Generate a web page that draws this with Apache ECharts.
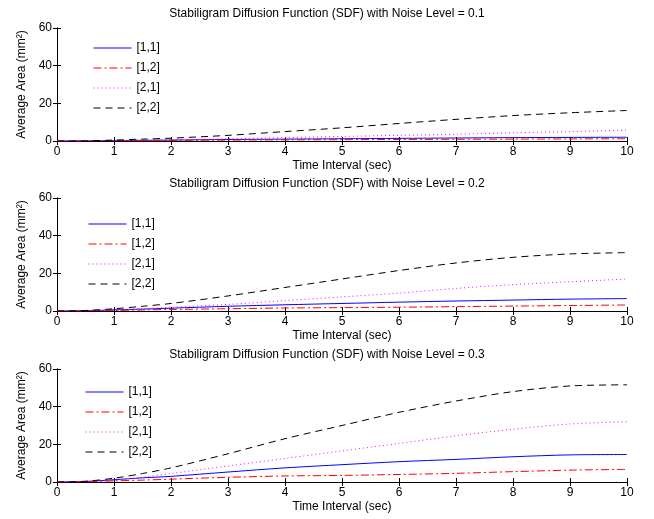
<!DOCTYPE html>
<html><head><meta charset="utf-8">
<script src="https://cdn.jsdelivr.net/npm/echarts@6/dist/echarts.min.js"></script>
<style>html,body{margin:0;padding:0;background:#fff}#c{width:654px;height:519px}</style>
</head><body><div id="c"></div>
<script>
const xs = [0, 0.5, 1, 1.5, 2, 3, 4, 5, 6, 7, 8, 9, 10];
const seriesNames = ['[1,1]', '[1,2]', '[2,1]', '[2,2]'];
const noiseLevels = ['0.1', '0.2', '0.3'];
const xTicks = [0,1,2,3,4,5,6,7,8,9,10];
const yTicks = [0,20,40,60];

// Noise 0.1
const n1_11 = [0, 0.05, 0.2, 0.35, 0.5, 0.8, 1.0, 1.2, 1.4, 1.6, 1.8, 1.9, 2.0];
const n1_12 = [0, 0.03, 0.1, 0.2, 0.3, 0.5, 0.6, 0.7, 0.8, 0.9, 1.0, 1.1, 1.2];
const n1_21 = [0, 0.05, 0.2, 0.4, 0.6, 1.2, 1.8, 2.4, 3.0, 3.6, 4.3, 5.0, 5.8];
const n1_22 = [0, 0.1, 0.5, 1.0, 1.5, 3.0, 5.0, 7.0, 9.3, 11.5, 13.5, 15.0, 16.2];
// Noise 0.2
const n2_11 = [0, 0.15, 0.6, 1.0, 1.5, 2.5, 3.3, 4.0, 4.7, 5.3, 5.8, 6.3, 6.6];
const n2_12 = [0, 0.08, 0.3, 0.55, 0.8, 1.2, 1.6, 1.8, 2.0, 2.3, 2.6, 2.9, 3.2];
const n2_21 = [0, 0.1, 0.5, 1.2, 2.0, 3.5, 5.5, 7.5, 9.5, 12.0, 14.0, 15.5, 17.0];
const n2_22 = [0, 0.3, 1.2, 2.5, 4.0, 8.0, 12.5, 17.0, 21.5, 25.5, 28.5, 30.3, 31.0];
// Noise 0.3
const n3_11 = [0, 0.3, 1.2, 2.2, 3.0, 5.3, 7.5, 9.2, 10.8, 12.0, 13.4, 14.4, 14.6];
const n3_12 = [0, 0.15, 0.6, 1.0, 1.5, 2.5, 3.2, 3.5, 4.0, 4.6, 5.5, 6.3, 6.7];
const n3_21 = [0, 0.2, 1.0, 2.5, 4.5, 8.5, 12.5, 16.5, 20.5, 24.5, 28.0, 30.8, 32.0];
const n3_22 = [0, 0.4, 2.0, 4.5, 7.5, 15.0, 23.0, 30.0, 37.0, 43.0, 48.0, 51.0, 51.6];

const panels = [[n1_11,n1_12,n1_21,n1_22],[n2_11,n2_12,n2_21,n2_22],[n3_11,n3_12,n3_21,n3_22]];

const colors = ['#0000ff', '#ff0000', '#ff00ff', '#000000'];
const dashes = ['solid', [8,3,2,3], [1,3], [7,5]];
const font = '"Liberation Sans", Arial, sans-serif';
const tops = [28, 198, 369];
const H = 113;
const legendLeft = [93, 88, 85];
const legendTop = [42, 218, 386];

const grids = [], xAxes = [], yAxes = [], series = [], titles = [], legends = [];
tops.forEach((top, p) => {
  grids.push({left: 57, right: 27, top: top, height: H, show: false});
  titles.push({text: 'Stabiligram Diffusion Function (SDF) with Noise Level = ' + noiseLevels[p],
    left: 'center', top: top - 25, textStyle: {fontFamily: font, fontSize: 12, fontWeight: 'normal', color: '#000'}});
  const axLine = {show: true, lineStyle: {color: '#000', width: 1}};
  xAxes.push({type: 'value', gridIndex: p, min: 0, max: 10, interval: 1, position: 'bottom',
    name: 'Time Interval (sec)', nameLocation: 'middle', nameGap: 19,
    nameTextStyle: {fontFamily: font, fontSize: 12, color: '#000'},
    axisLine: axLine, axisTick: {inside: true, length: 4, lineStyle: {color: '#000'}},
    axisLabel: {fontFamily: font, fontSize: 12, color: '#000', margin: 5,
      formatter: v => xTicks.includes(v) ? String(v) : ''},
    splitLine: {show: false}});
  xAxes.push({type: 'value', gridIndex: p, min: 0, max: 10, interval: 1, position: 'top',
    axisLine: axLine, axisTick: {inside: true, length: 4, lineStyle: {color: '#000'}},
    axisLabel: {show: false}, splitLine: {show: false}});
  yAxes.push({type: 'value', gridIndex: p, min: 0, max: 60, interval: 20, position: 'left',
    name: 'Average Area (mm²)', nameLocation: 'middle', nameGap: 27,
    nameTextStyle: {fontFamily: font, fontSize: 12, color: '#000'},
    axisLine: axLine, axisTick: {inside: true, length: 4, lineStyle: {color: '#000'}},
    axisLabel: {fontFamily: font, fontSize: 12, color: '#000', margin: 5,
      formatter: v => yTicks.includes(v) ? String(v) : ''},
    splitLine: {show: false}});
  yAxes.push({type: 'value', gridIndex: p, min: 0, max: 60, interval: 20, position: 'right',
    axisLine: axLine, axisTick: {inside: true, length: 4, lineStyle: {color: '#000'}},
    axisLabel: {show: false}, splitLine: {show: false}});
  const legendData = [];
  panels[p].forEach((vals, i) => {
    const nm = seriesNames[i] + ' ' + p;
    legendData.push({name: nm, itemStyle: {opacity: 0},
      lineStyle: {color: colors[i], width: 1, type: dashes[i], opacity: 1}});
    series.push({name: nm, type: 'line', xAxisIndex: 2*p, yAxisIndex: 2*p, smooth: 0.3,
      symbol: 'none', silent: true, animation: false,
      data: xs.map((x, k) => [x, vals[k]]),
      lineStyle: {color: colors[i], width: 1, type: dashes[i]},
      itemStyle: {color: colors[i]}});
  });
  legends.push({orient: 'vertical', left: legendLeft[p], top: legendTop[p], itemWidth: 38, itemHeight: 10,
    itemGap: 8, data: legendData, formatter: n => n.split(' ')[0], padding: 0,
    textStyle: {fontFamily: font, fontSize: 12, color: '#000'},
    selectedMode: false});
});

const chart = echarts.init(document.getElementById('c'), null, {renderer: 'canvas'});
chart.setOption({animation: false, backgroundColor: '#fff', title: titles, legend: legends,
  grid: grids, xAxis: xAxes, yAxis: yAxes, series: series});
</script></body></html>
